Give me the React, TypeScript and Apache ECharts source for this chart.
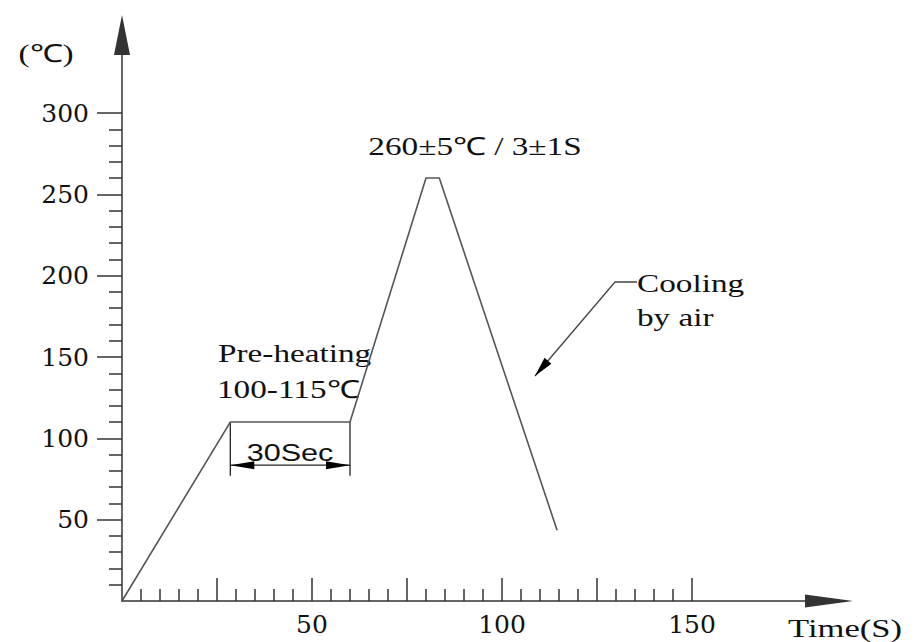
import React, { useEffect, useRef } from 'react';
import * as echarts from 'echarts';

// Reflow soldering profile
const timeS = [0, 28.5, 60, 80, 83.5, 114.5];
const tempC = [0, 110, 110, 260, 260, 43.5];

const xTickLabels = [50, 100, 150];
const xMajorTicks = [25, 50, 75, 100, 125, 150];
const yTickLabels = [50, 100, 150, 200, 250, 300];
const yMajorTicks = [50, 100, 150, 200, 250, 300];

// pre-heating dimension (30 s plateau)
const preheatStart = 28.5;
const preheatEnd = 60;
const preheatTemp = 110;
const dimLineTemp = 83.5;
const dimExtTemp = 77;

const STRETCH = 1.33;

export default function App() {
  const ref = useRef<HTMLDivElement>(null);

  useEffect(() => {
    const chart = echarts.init(ref.current!, null, { renderer: 'svg' });
    const axisColor = '#333';
    const serif = '"Liberation Serif", "Times New Roman", serif';
    const tickFont = '"DejaVu Serif", serif';

    chart.setOption({
      animation: false,
      backgroundColor: '#ffffff',
      grid: [
        { left: 122, top: 55, width: 683, height: 546 },
        { left: 122, top: 113, width: 570, height: 488 },
      ],
      xAxis: [
        {
          gridIndex: 0, type: 'value', min: 0, max: 100,
          axisLine: {
            show: true, symbol: ['none', 'triangle'], symbolSize: [13, 48], symbolOffset: [0, 24],
            lineStyle: { color: axisColor, width: 1.5 },
          },
          axisTick: { show: false }, axisLabel: { show: false }, splitLine: { show: false },
        },
        {
          gridIndex: 1, type: 'value', min: 0, max: 150, interval: 25,
          axisLine: { show: false },
          axisTick: { show: true, inside: true, length: 23, customValues: xMajorTicks, lineStyle: { color: axisColor, width: 1.5 } },
          minorTick: { show: true, splitNumber: 5, length: 12, lineStyle: { color: axisColor, width: 1.5 } },
          axisLabel: { show: true, customValues: xTickLabels, margin: 11, fontFamily: tickFont, fontSize: 25, color: '#111' },
          splitLine: { show: false },
        },
      ],
      yAxis: [
        {
          gridIndex: 0, type: 'value', min: 0, max: 100,
          axisLine: {
            show: true, symbol: ['none', 'triangle'], symbolSize: [16, 40], symbolOffset: [0, 20],
            lineStyle: { color: axisColor, width: 1.5 },
          },
          axisTick: { show: false }, axisLabel: { show: false }, splitLine: { show: false },
        },
        {
          gridIndex: 1, type: 'value', min: 0, max: 300, interval: 50,
          axisLine: { show: false },
          axisTick: { show: true, inside: false, length: 25, customValues: yMajorTicks, lineStyle: { color: axisColor, width: 1.5 } },
          minorTick: { show: true, splitNumber: 5, length: 13, lineStyle: { color: axisColor, width: 1.5 } },
          axisLabel: { show: true, customValues: yTickLabels, margin: 33, fontFamily: tickFont, fontSize: 25, color: '#111' },
          splitLine: { show: false },
        },
      ],
      series: [
        {
          type: 'line',
          xAxisIndex: 1,
          yAxisIndex: 1,
          data: timeS.map((t, i) => [t, tempC[i]]),
          symbol: 'none',
          lineStyle: { color: '#555', width: 1.6 },
          silent: true,
        },
      ],
    });

    const px = (x: number, y: number) => chart.convertToPixel({ gridIndex: 1 }, [x, y]) as number[];
    const arrowHead = (tip: number[], from: number[], len: number, half: number) => {
      const dx = tip[0] - from[0];
      const dy = tip[1] - from[1];
      const d = Math.hypot(dx, dy);
      const ux = dx / d, uy = dy / d;
      const bx = tip[0] - ux * len, by = tip[1] - uy * len;
      return [tip, [bx - uy * half, by + ux * half], [bx + uy * half, by - ux * half]];
    };

    const a = px(preheatStart, preheatTemp);
    const aLow = px(preheatStart, dimExtTemp);
    const b = px(preheatEnd, preheatTemp);
    const bLow = px(preheatEnd, dimExtTemp);
    const dl = px(preheatStart, dimLineTemp);
    const dr = px(preheatEnd, dimLineTemp);

    const coolTip = [535, 376];
    const coolKnee = [615, 282];
    const coolEnd = [637, 282];

    const dark = '#222';
    const text = (t: string, x: number, y: number, size: number, align: string, family = serif) => ({
      type: 'text', x, y, scaleX: STRETCH, silent: true,
      style: {
        text: t, fontSize: size, fontFamily: family, fill: '#111',
        align, verticalAlign: 'middle', textAlign: align, textVerticalAlign: 'middle',
      },
    });

    chart.setOption({
      graphic: [
        { type: 'line', silent: true, shape: { x1: a[0], y1: a[1], x2: aLow[0], y2: aLow[1] }, style: { stroke: dark, lineWidth: 1.3 } },
        { type: 'line', silent: true, shape: { x1: b[0], y1: b[1], x2: bLow[0], y2: bLow[1] }, style: { stroke: dark, lineWidth: 1.3 } },
        { type: 'line', silent: true, shape: { x1: dl[0], y1: dl[1], x2: dr[0], y2: dr[1] }, style: { stroke: dark, lineWidth: 1.3 } },
        { type: 'polygon', silent: true, shape: { points: arrowHead(dl, dr, 24, 4) }, style: { fill: '#000' } },
        { type: 'polygon', silent: true, shape: { points: arrowHead(dr, dl, 24, 4) }, style: { fill: '#000' } },
        { type: 'polyline', silent: true, shape: { points: [coolEnd, coolKnee, coolTip] }, style: { stroke: '#444', lineWidth: 1.3, fill: 'none' } },
        { type: 'polygon', silent: true, shape: { points: arrowHead(coolTip, coolKnee, 20, 4.5) }, style: { fill: '#000' } },
        text('(℃)', 46, 54, 25, 'center'),
        text('260±5℃ / 3±1S', 475, 147, 25, 'center'),
        text('Pre-heating', 218, 354, 25, 'left'),
        text('100-115℃', 217, 390, 25, 'left'),
        text('30Sec', 290, 453, 23, 'center', '"Liberation Sans", Arial, sans-serif'),
        text('Cooling', 637, 284, 25, 'left'),
        text('by air', 637, 318, 25, 'left'),
        text('Time(S)', 788, 629, 26, 'left'),
      ],
    });

    return () => chart.dispose();
  }, []);

  return (
    <div
      ref={ref}
      style={{ position: 'absolute', left: 0, top: 0, width: 915, height: 642, background: '#fff' }}
    />
  );
}
